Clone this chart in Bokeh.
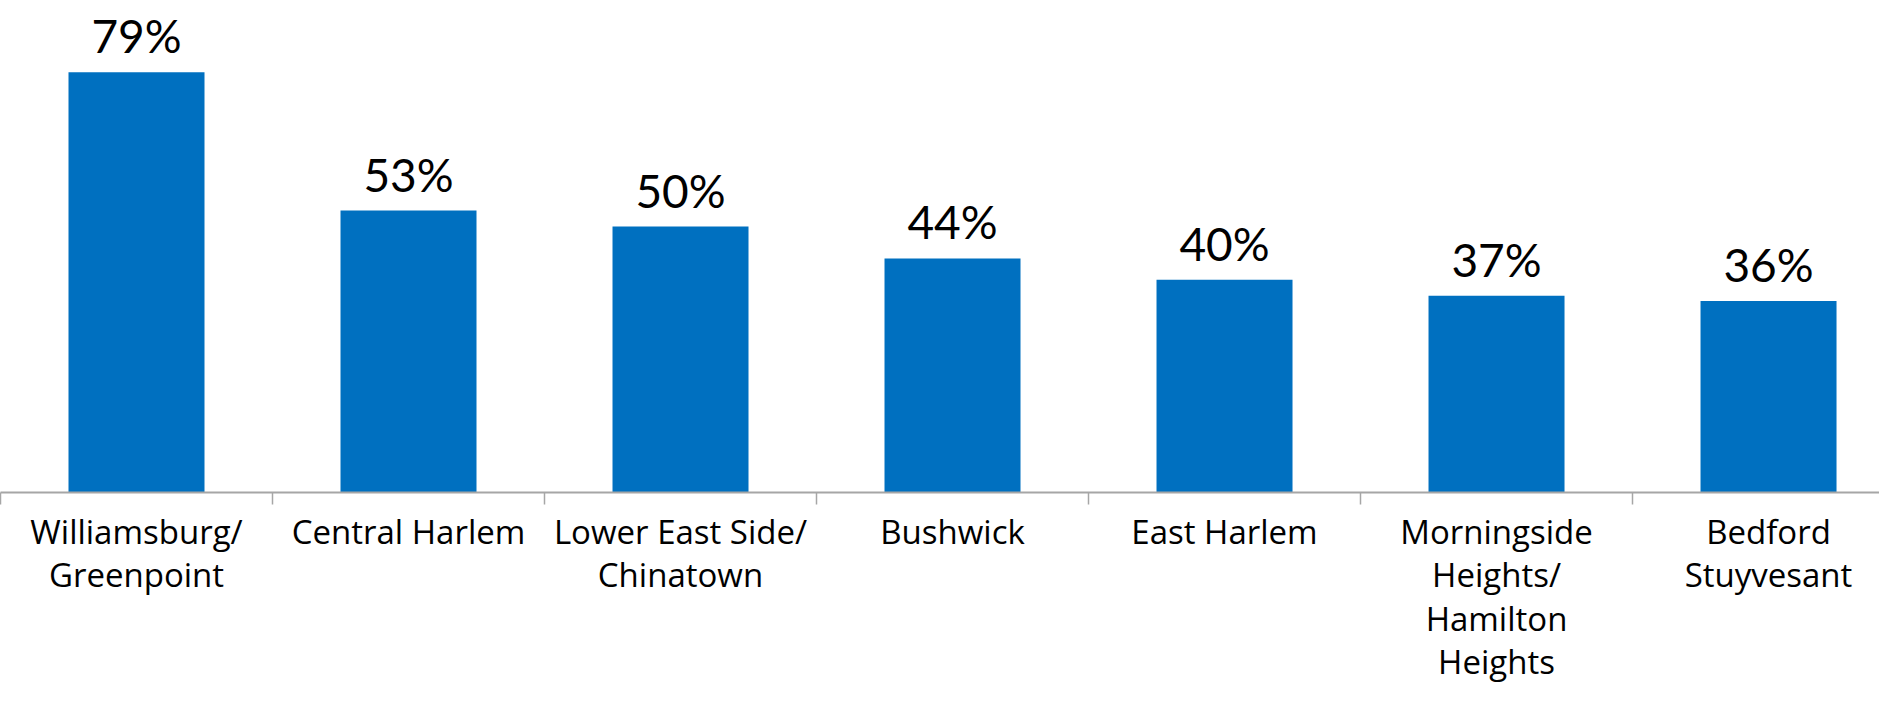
from bokeh.plotting import figure
from bokeh.models import ColumnDataSource, Range1d, FixedTicker, LinearAxis, LabelSet
from bokeh.core.properties import value
from bokeh.embed import file_html
from bokeh.resources import INLINE

categories = ["Williamsburg/\nGreenpoint", "Central Harlem", "Lower East Side/\nChinatown",
              "Bushwick", "East Harlem", "Morningside\nHeights/\nHamilton\nHeights",
              "Bedford\nStuyvesant"]
values = [79, 53, 50, 44, 40, 37, 36]
labels = [f"{v}%" for v in values]

xs = list(range(len(categories)))
src = ColumnDataSource(dict(x=xs, top=values, label=labels))

p = figure(width=1879, height=687, output_backend="svg", toolbar_location=None,
           x_range=Range1d(-0.5, 6.408), y_range=Range1d(0, 92.5),
           min_border_left=0, min_border_right=0, min_border_top=0, min_border_bottom=194,
           x_axis_location=None, y_axis_location=None)
p.outline_line_color = None
p.xgrid.visible = False
p.ygrid.visible = False
p.background_fill_color = "white"
p.border_fill_color = "white"

p.vbar(x="x", top="top", bottom=0, width=0.5, source=src, fill_color="#0070C0", line_color=None)

pct = LabelSet(x="x", y="top", text="label", source=src, text_align="center",
               text_baseline="alphabetic", y_offset=19, text_font=value("Lato"),
               text_font_size=value("46px"), text_color=value("black"))
p.add_layout(pct)

ax = LinearAxis()
ax.ticker = FixedTicker(ticks=xs, minor_ticks=[i - 0.5 for i in range(len(categories) + 1)])
ax.major_label_overrides = {i: c for i, c in enumerate(categories)}
ax.major_tick_out = 0
ax.major_tick_in = 0
ax.minor_tick_out = 12
ax.minor_tick_in = 0
ax.minor_tick_line_color = "#A6A6A6"
ax.minor_tick_line_width = 1.5
ax.axis_line_color = "#A6A6A6"
ax.axis_line_width = 2
ax.major_label_text_font = "Open Sans"
ax.major_label_text_font_size = "33px"
ax.major_label_text_color = "black"
ax.major_label_text_line_height = 0.97
ax.major_label_standoff = 4
p.add_layout(ax, "below")

open("out.html", "w").write(file_html(p, INLINE))
